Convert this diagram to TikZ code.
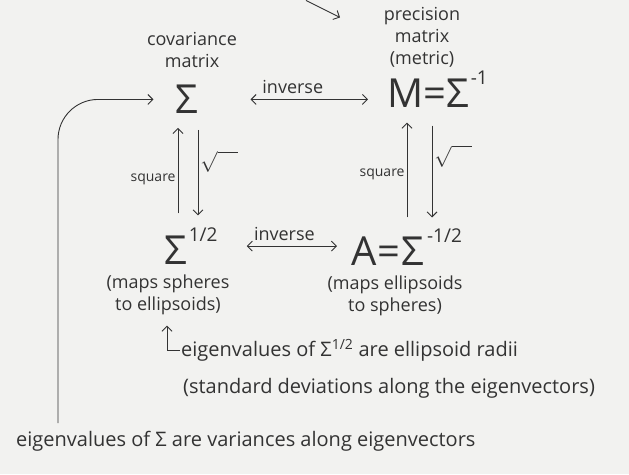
\documentclass[tikz,border=0pt]{standalone}
\usepackage{fontspec}
\setmainfont{Open Sans}
\usetikzlibrary{arrows.meta,positioning}
\definecolor{board}{HTML}{F2F2F0}
\definecolor{inkc}{HTML}{333333}
% raised exponent for the big matrix names
\newcommand{\bigexp}[1]{\raisebox{23pt}{\fontsize{19}{19}\selectfont #1}}

\begin{document}
\begin{tikzpicture}[x=1pt,y=-1pt,
    note/.style={font=\fontsize{18}{22}\selectfont, text=inkc, align=center, inner sep=1pt},
    wide/.style={font=\fontsize{20}{24}\selectfont, text=inkc, inner sep=1pt},
    big/.style={font=\fontsize{40}{40}\selectfont, text=inkc, inner sep=1pt},
    small/.style={font=\fontsize{14}{16}\selectfont, text=inkc, inner sep=2pt},
    root/.style={font=\fontsize{20}{20}\selectfont, text=inkc, inner sep=2pt},
    pen/.style={draw=inkc, line width=0.9pt, -{Straight Barb[length=5pt,width=10pt]}},
    twoway/.style={pen, {Straight Barb[length=5pt,width=10pt]}-{Straight Barb[length=5pt,width=10pt]}}]

    % board
    \fill[board] (0,0) rectangle (629,474);

    % top labels
    \node[note] (covlab) at (192,50) {covariance\\matrix};
    \node[note] (preclab) at (422,37) {precision\\matrix\\(metric)};
    \coordinate (stub) at (306,0);
    \coordinate (stubtip) at (340,17);
    \draw[pen] (stub) -- (stubtip);

    % the four matrices
    \node[big] (sig) at (187,99) {Σ};
    \node[big, anchor=base west] (prec) at (386,107) {M=Σ\kern2pt\bigexp{-1}};
    \node[big, anchor=base west] (sqrtsig) at (163,264) {Σ\kern2pt\bigexp{1/2}};
    \node[big, anchor=base west] (isqrt) at (350,265) {A\kern1pt=\kern1ptΣ\kern3pt\bigexp{-1/2}};

    % inverse arrows
    \draw[twoway, shorten <=51pt, shorten >=18pt] (sig.east) -- node[note, above=4pt] {inverse} (sig.east -| prec.west);
    \draw[twoway, shorten <=28pt, shorten >=13pt] (sqrtsig.east) -- node[note, above=4pt] {inverse} (sqrtsig.east -| isqrt.west);

    % square / root, left column
    \coordinate (lu) at ([xshift=-9pt]sig.south);
    \coordinate (ld) at ([xshift=11pt]sig.south);
    \draw[pen, shorten <=13pt, shorten >=13pt] (lu |- sqrtsig.north) -- node[small, left, pos=0.42] {square} (lu);
    \draw[pen, shorten <=15pt, shorten >=11pt] (ld) -- node[root, right, pos=0.42] {$\sqrt{\quad}$} (ld |- sqrtsig.north);

    % square / root, right column
    \coordinate (ru) at ([xshift=21pt]prec.south west);
    \coordinate (rd) at ([xshift=46pt]prec.south west);
    \draw[pen, shorten <=10pt, shorten >=14pt] (ru |- isqrt.north) -- node[small, left, pos=0.45] {square} (ru);
    \draw[pen, shorten <=17pt, shorten >=10pt] (rd) -- node[root, right, pos=0.4] {$\sqrt{\quad}$} (rd |- isqrt.north);

    % what the roots do
    \node[note] (spheres) at (168,294) {(maps spheres\\to ellipsoids)};
    \node[note] (ellips) at (395,295) {(maps ellipsoids\\to spheres)};

    % eigenvalue notes
    \node[wide, anchor=west] (radii) at (180,350) {eigenvalues of Σ\textsuperscript{1/2} are ellipsoid radii};
    \node[wide, anchor=west] (stddev) at (182,388) {(standard deviations along the eigenvectors)};
    \node[wide, anchor=west] (variances) at (15,441) {eigenvalues of Σ are variances along eigenvectors};
    \draw[pen, shorten >=10pt] (radii.west) -| ([xshift=-1pt]spheres.south);
    \draw[pen, rounded corners=40pt, shorten <=7pt, shorten >=21pt] ([xshift=43pt]variances.north west) |- (sig.west);
\end{tikzpicture}
\end{document}
